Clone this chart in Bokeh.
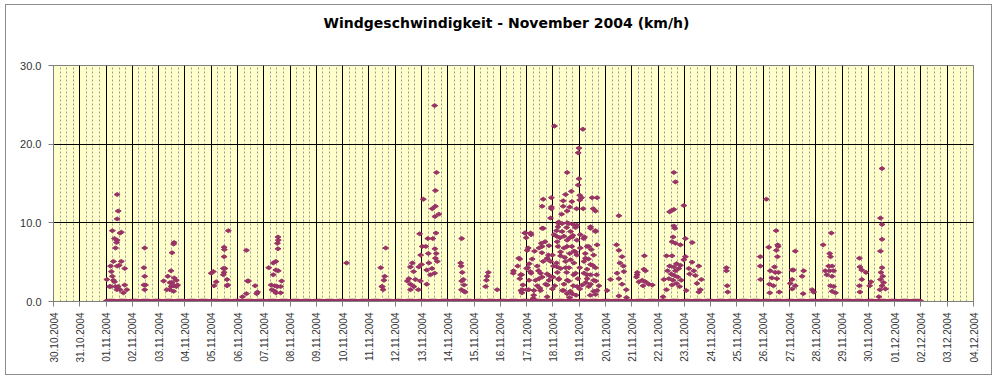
import math
import numpy as np
from bokeh.plotting import figure
from bokeh.models import FixedTicker, Label
from bokeh.embed import file_html
from bokeh.resources import INLINE

# ---------------- data ----------------
title_text = "Windgeschwindigkeit - November 2004 (km/h)"

# x tick labels: one per day, x = days since 30.10.2004 00:00
tick_labels = ["30.10.2004", "31.10.2004", "01.11.2004", "02.11.2004", "03.11.2004",
               "04.11.2004", "05.11.2004", "06.11.2004", "07.11.2004", "08.11.2004",
               "09.11.2004", "10.11.2004", "11.11.2004", "12.11.2004", "13.11.2004",
               "14.11.2004", "15.11.2004", "16.11.2004", "17.11.2004", "18.11.2004",
               "19.11.2004", "20.11.2004", "21.11.2004", "22.11.2004", "23.11.2004",
               "24.11.2004", "25.11.2004", "26.11.2004", "27.11.2004", "28.11.2004",
               "29.11.2004", "30.11.2004", "01.12.2004", "02.12.2004", "03.12.2004",
               "04.12.2004"]
y_tick_values = [0, 10, 20, 30]
y_tick_labels = ["0.0", "10.0", "20.0", "30.0"]

# measurement period where the logger recorded (zero readings line)
zero_start = 2.0      # 01.11.2004 00:00
zero_end = 33.0       # 02.12.2004 00:00
zero_step_hours = 1.0

# non-zero wind readings (time in days since 30.10.2004, speed km/h)
t_nov01 = [2.03, 2.42, 2.46, 2.42, 2.24, 2.53, 2.58, 2.32, 2.42, 2.40, 2.36, 2.28, 2.42, 2.50, 2.58,
           2.17, 2.71, 2.20, 2.24, 2.28, 2.32, 2.17, 2.13, 2.36, 2.46, 2.53, 2.71, 2.79, 2.66, 2.41]
v_nov01 = [2.8, 13.6, 11.5, 10.5, 9.0, 8.7, 8.8, 8.0, 7.8, 7.5, 6.8, 5.1, 4.5, 4.6, 5.1,
           4.5, 4.2, 3.8, 3.2, 2.7, 2.5, 1.9, 1.9, 1.9, 1.9, 1.5, 2.1, 1.5, 1.1, 1.5]

t_nov02 = [3.47, 3.44, 3.47, 3.44, 3.50, 3.47]
v_nov02 = [6.8, 4.3, 3.2, 2.1, 2.1, 1.5]

t_nov03 = [4.59, 4.57, 4.51, 4.47, 4.35, 4.59, 4.67, 4.19, 4.43, 4.51, 4.31, 4.47, 4.59, 4.67, 4.57, 4.43, 4.72]
v_nov03 = [7.5, 7.3, 6.2, 3.9, 3.2, 3.0, 2.7, 2.6, 2.4, 2.4, 1.5, 1.9, 2.0, 1.9, 1.3, 1.5, 2.1]

t_nov05 = [6.00, 6.08, 6.65, 6.49, 6.50, 6.49, 6.46, 6.52, 6.49, 6.46, 6.60, 6.19, 6.11, 6.60, 6.63]
v_nov05 = [3.6, 3.8, 9.0, 6.9, 6.6, 5.7, 4.2, 4.2, 3.7, 3.4, 2.8, 2.5, 2.0, 2.0, 2.1]

t_nov06 = [7.34, 7.38, 7.42, 7.67, 7.73, 7.34, 7.19, 7.76]
v_nov06 = [6.5, 2.6, 2.6, 2.0, 1.0, 1.0, 0.6, 1.2]

t_nov07 = [8.54, 8.55, 8.52, 8.54, 8.46, 8.36, 8.19, 8.46, 8.55, 8.36, 8.68, 8.28, 8.42, 8.52, 8.64,
           8.31, 8.42, 8.46, 8.64]
v_nov07 = [8.2, 7.8, 7.4, 6.7, 5.1, 4.9, 4.3, 4.0, 3.9, 3.4, 2.6, 2.1, 2.0, 1.9, 1.9,
           1.5, 1.3, 1.1, 1.1]

t_nov10 = [11.15, 12.64, 12.45, 12.60, 12.57, 12.51, 12.54, 12.49]
v_nov10 = [4.9, 6.8, 4.3, 3.2, 2.7, 1.9, 1.5, 1.9]

t_nov13 = [14.50, 14.57, 14.53, 14.07, 14.41, 14.53, 14.51, 14.66, 13.93, 14.55, 14.24, 14.43, 14.03,
           14.16, 14.51, 13.97, 14.26, 14.56, 14.53, 13.65, 14.00, 14.28, 14.60, 13.58, 13.90, 14.20,
           14.40, 13.70, 14.50, 14.34, 13.52, 13.46, 13.77, 13.96, 13.58, 14.20, 13.88, 13.58, 13.71]
v_nov13 = [24.9, 16.4, 14.1, 13.0, 11.8, 12.1, 10.8, 11.1, 8.6, 8.7, 8.0, 8.0, 7.0,
           7.0, 6.7, 5.9, 6.1, 6.1, 5.5, 4.9, 4.7, 4.9, 5.1, 4.4, 4.4, 4.0,
           4.2, 3.8, 3.6, 3.4, 2.9, 2.6, 2.8, 2.6, 2.2, 2.2, 1.5, 1.5, 1.9]

t_nov14 = [15.53, 15.49, 15.51, 15.55, 15.59, 15.53, 15.62, 15.52, 15.62, 15.66,
           16.54, 16.50, 16.47, 16.44, 16.88]
v_nov14 = [8.0, 4.9, 4.5, 3.7, 2.8, 2.6, 2.1, 1.5, 1.3, 1.2,
           3.7, 3.2, 2.7, 1.9, 1.5]

t_nov17 = [19.06, 20.14, 19.99, 19.96, 19.54, 19.99, 19.96, 19.70, 19.48, 20.02, 20.09, 20.02, 18.63,
           18.94, 20.49, 20.68, 18.59, 18.94, 19.39, 19.72, 19.39, 19.64, 19.90, 20.15, 20.53, 20.62,
           18.91, 19.33, 19.54, 21.51, 19.22, 19.35, 19.55, 19.76, 19.91, 19.19, 19.52, 19.86, 20.43,
           20.62, 18.63, 19.14, 19.67, 17.93, 18.17, 17.98, 19.04, 19.14, 19.42, 19.76, 20.04, 19.27,
           19.64, 20.20, 19.54, 19.91, 20.68, 21.42, 18.56, 18.47, 18.85, 19.19, 19.42, 19.72, 20.04,
           20.30, 20.46, 21.51, 21.63, 18.02, 18.58, 18.83, 18.98, 19.29, 19.64, 19.91, 20.23, 20.55,
           17.70, 18.21, 18.63, 18.78, 19.14, 19.48, 19.80, 20.18, 20.43, 21.55, 21.68, 17.66, 18.04,
           18.40, 19.02, 19.29, 19.61, 20.02, 20.30, 20.62, 17.49, 17.81, 18.17, 18.53, 18.78, 19.17,
           19.52, 19.86, 20.18, 20.43, 20.66, 21.44, 21.70, 22.20, 17.74, 18.09, 18.47, 18.85, 19.22,
           19.54, 19.95, 20.30, 20.55, 21.51, 17.86, 18.40, 18.72, 19.07, 19.42, 19.78, 20.11, 20.43,
           20.75, 21.63, 17.78, 18.00, 18.53, 18.98, 19.36, 19.66, 20.02, 20.55, 21.06, 21.79, 17.82,
           18.27, 19.54, 19.88, 20.62, 21.51, 21.80, 19.63, 18.25, 21.19, 18.30, 18.70, 19.00, 19.80,
           20.35, 18.10, 18.90, 19.45, 20.25,
           17.96, 18.15, 18.06, 17.74, 18.00, 17.50, 17.77, 18.14, 18.45, 18.34, 18.59, 18.78, 17.83,
           18.08, 18.28, 18.50, 18.78, 18.26, 18.59, 18.78, 18.91, 18.59, 18.94,
           19.22, 19.60, 19.35, 19.73, 19.16, 19.54, 19.86, 19.29, 19.67, 19.16, 19.48, 19.79, 19.22,
           19.60, 19.92, 19.41, 19.73, 20.17, 20.36, 20.24, 20.51, 20.30, 20.63, 20.36, 20.68, 20.42,
           20.43, 20.62]
v_nov17 = [22.3, 21.9, 19.5, 18.9, 16.4, 15.6, 14.8, 14.0, 13.6, 13.5, 13.2, 12.9, 13.0,
           13.2, 13.2, 13.2, 12.1, 11.8, 12.8, 12.7, 12.1, 12.0, 11.8, 11.8, 11.8, 11.5,
           10.6, 11.1, 11.5, 10.9, 9.9, 9.9, 10.0, 9.8, 9.7, 9.5, 9.4, 9.4, 9.3,
           9.0, 9.3, 9.0, 8.9, 8.7, 8.5, 8.1, 8.5, 8.3, 8.3, 8.4, 8.5, 8.1,
           8.1, 8.2, 7.8, 7.8, 7.2, 7.2, 7.4, 6.8, 7.1, 7.0, 6.8, 7.0, 6.8,
           7.0, 6.6, 6.5, 5.7, 6.5, 6.2, 5.9, 5.9, 6.3, 6.1, 5.9, 6.1, 5.9,
           5.5, 5.4, 5.1, 5.4, 4.9, 5.1, 4.9, 5.1, 4.7, 4.9, 4.5, 4.5, 4.3,
           4.5, 4.5, 4.2, 4.3, 4.3, 4.1, 4.3, 3.6, 3.4, 3.6, 3.6, 3.5, 3.7,
           3.7, 3.6, 3.6, 3.4, 3.4, 3.6, 3.8, 3.4, 2.9, 2.7, 2.9, 2.7, 2.9,
           2.7, 2.9, 2.9, 2.7, 2.9, 2.1, 2.0, 2.2, 2.0, 2.2, 2.0, 2.1, 2.2,
           2.0, 2.2, 1.4, 1.5, 1.4, 1.6, 1.4, 1.3, 1.6, 1.3, 1.4, 1.5, 1.1,
           0.8, 1.0, 0.8, 0.9, 0.7, 0.5, 0.5, 0.4, 2.8, 6.4, 7.6, 3.1, 6.4,
           5.4, 4.8, 3.2, 5.6, 2.4,
           8.7, 8.7, 6.8, 5.4, 4.2, 3.9, 3.4, 3.8, 3.9, 2.7, 3.1, 2.1, 1.5,
           1.5, 1.4, 1.7, 0.6, 0.3, 7.0, 5.5, 5.1, 9.3, 12.0,
           10.1, 9.9, 8.9, 8.2, 7.6, 7.0, 6.3, 5.8, 5.3, 4.4, 4.3, 3.4, 2.8,
           2.6, 1.9, 1.4, 1.0, 8.0, 7.0, 5.5, 4.6, 3.4, 2.6, 1.9, 1.4, 0.8,
           9.5, 8.9]

t_nov21 = [22.48, 22.46, 22.52, 22.21, 22.18, 22.40, 22.52, 22.65, 22.43, 22.78, 22.27, 23.19]
v_nov21 = [5.8, 4.1, 3.9, 3.7, 3.1, 2.7, 2.5, 2.2, 2.0, 2.1, 2.5, 0.6]

t_nov22 = [23.60, 23.66, 23.98, 23.44, 23.53, 23.60, 23.60, 23.64, 23.57, 23.53, 23.66, 23.85, 23.32,
           23.53, 23.44, 23.60, 23.79, 23.85, 23.36, 23.66, 23.22, 23.41, 23.57, 23.75, 23.88, 23.70,
           23.82, 23.32, 23.53, 23.50, 23.70, 23.62]
v_nov22 = [16.4, 15.2, 12.2, 11.4, 11.6, 11.7, 9.6, 9.3, 8.2, 7.6, 7.4, 7.2, 5.8,
           5.8, 4.5, 4.4, 4.2, 4.6, 3.9, 3.9, 2.8, 2.9, 2.7, 3.1, 2.7, 2.3,
           1.9, 1.5, 2.1, 3.5, 4.8, 3.3]

t_nov23 = [24.04, 24.30, 24.04, 23.98, 24.29, 24.55, 24.17, 24.36, 24.20, 24.42, 24.65, 24.48, 24.61,
           24.55, 24.07]
v_nov23 = [8.0, 7.5, 5.7, 5.3, 5.0, 4.5, 4.2, 3.9, 3.5, 3.3, 2.8, 2.3, 1.5,
           1.2, 1.4]

t_nov24 = [25.60, 25.60, 25.63, 25.65, 26.89, 26.89, 26.90]
v_nov24 = [4.3, 3.9, 2.0, 1.2, 5.7, 4.5, 2.8]

t_nov26 = [27.12, 27.49, 27.55, 27.57, 27.50, 27.21, 27.54, 27.43, 27.27, 27.46, 27.58, 27.33, 27.52,
           27.24, 27.39, 27.61, 27.25, 28.03, 28.15]
v_nov26 = [13.0, 9.0, 7.2, 7.0, 6.5, 6.9, 5.7, 4.4, 3.9, 3.7, 3.7, 3.0, 2.9,
           2.2, 2.0, 1.2, 1.1, 2.3, 4.0]

t_nov27 = [28.22, 28.10, 28.54, 28.48, 28.10, 28.22, 28.10, 28.52, 28.92, 28.86]
v_nov27 = [6.4, 4.0, 3.9, 3.2, 2.8, 2.0, 1.6, 1.0, 1.2, 1.5]

t_nov28 = [29.59, 29.28, 29.53, 29.56, 29.49, 29.62, 29.36, 29.53, 29.68, 29.42, 29.62, 29.56, 29.68,
           29.62, 29.75]
v_nov28 = [8.7, 7.2, 6.1, 5.7, 4.5, 4.5, 3.9, 3.9, 3.9, 3.4, 3.2, 2.0, 1.9,
           1.3, 1.1]

t_nov29 = [30.66, 30.68, 30.75, 30.91, 30.75, 31.10, 30.66, 30.68, 31.05]
v_nov29 = [5.5, 4.4, 4.0, 3.7, 2.8, 2.5, 2.0, 1.2, 2.0]

t_nov30 = [31.52, 31.46, 31.52, 31.52, 31.46, 31.52, 31.48, 31.55, 31.46, 31.58, 31.52, 31.65, 31.44, 31.40]
v_nov30 = [16.9, 10.6, 9.8, 7.9, 6.4, 4.3, 3.7, 3.2, 2.8, 2.4, 2.0, 1.6, 1.5, 0.6]

# ---------------- assemble ----------------
t_all = (t_nov01 + t_nov02 + t_nov03 + t_nov05 + t_nov06 + t_nov07 + t_nov10 + t_nov13 + t_nov14 +
         t_nov17 + t_nov21 + t_nov22 + t_nov23 + t_nov24 + t_nov26 + t_nov27 + t_nov28 + t_nov29 + t_nov30)
v_all = (v_nov01 + v_nov02 + v_nov03 + v_nov05 + v_nov06 + v_nov07 + v_nov10 + v_nov13 + v_nov14 +
         v_nov17 + v_nov21 + v_nov22 + v_nov23 + v_nov24 + v_nov26 + v_nov27 + v_nov28 + v_nov29 + v_nov30)

t_zero = list(np.arange(zero_start, zero_end + 1e-9, zero_step_hours / 24.0))
v_zero = [0.0] * len(t_zero)

n_days = len(tick_labels) - 1

MARKER = "#993366"
FONT = "Liberation Sans"

p = figure(width=987, height=371, output_backend="svg", toolbar_location=None,
           x_range=(0, n_days), y_range=(0, 30),
           min_border_left=47, min_border_right=20, min_border_top=60, min_border_bottom=75)
p.styles = {"border": "1px solid #8c8c8c", "margin-left": "5px", "margin-top": "4px"}

p.background_fill_color = "#FFFFCC"
p.border_fill_color = "white"
p.outline_line_color = "#808080"

# title, placed in the panel above the frame (screen offsets from that panel's bottom-left)
p.add_layout(Label(x=453, y=43, x_units="screen", y_units="screen",
                   text=title_text, text_align="center", text_baseline="alphabetic",
                   text_font="DejaVu Sans", text_font_style="bold", text_font_size="14px",
                   text_color="#000000"), "above")

# x axis
minor = [d + q / 4 for d in range(n_days) for q in (1, 2, 3)]
p.xaxis.ticker = FixedTicker(ticks=list(range(n_days + 1)), minor_ticks=minor)
p.xaxis.major_label_overrides = {i: lab for i, lab in enumerate(tick_labels)}
p.xaxis.major_label_orientation = math.pi / 2
p.xaxis.major_label_text_font = FONT
p.xaxis.major_label_text_font_size = "10px"
p.xaxis.major_label_text_color = "#333333"
p.xaxis.major_label_standoff = 6
p.xaxis.major_tick_in = 0
p.xaxis.major_tick_out = 5
p.xaxis.minor_tick_line_color = None
p.xaxis.axis_line_color = "#808080"
p.xaxis.major_tick_line_color = "#808080"

# y axis
p.yaxis.ticker = FixedTicker(ticks=y_tick_values, minor_ticks=[])
p.yaxis.major_label_overrides = {v: l for v, l in zip(y_tick_values, y_tick_labels)}
p.yaxis.major_label_text_font = FONT
p.yaxis.major_label_text_font_size = "11px"
p.yaxis.major_label_text_color = "#333333"
p.yaxis.major_label_standoff = 7
p.yaxis.major_tick_in = 0
p.yaxis.major_tick_out = 5
p.yaxis.minor_tick_line_color = None
p.yaxis.axis_line_color = "#808080"
p.yaxis.major_tick_line_color = "#808080"

# grids
p.xgrid.grid_line_color = "#000000"
p.xgrid.grid_line_alpha = 1.0
p.xgrid.minor_grid_line_color = "#9a9a9a"
p.xgrid.minor_grid_line_dash = "2 2"
p.ygrid.grid_line_color = "#000000"
p.ygrid.grid_line_alpha = 1.0

# data
p.scatter(x=t_zero, y=v_zero, marker="diamond", angle=math.pi / 2, size=7,
          fill_color=MARKER, line_color=MARKER)
p.scatter(x=t_all, y=v_all, marker="diamond", angle=math.pi / 2, size=6,
          fill_color=MARKER, line_color=MARKER)

open("out.html", "w").write(file_html(p, INLINE))
